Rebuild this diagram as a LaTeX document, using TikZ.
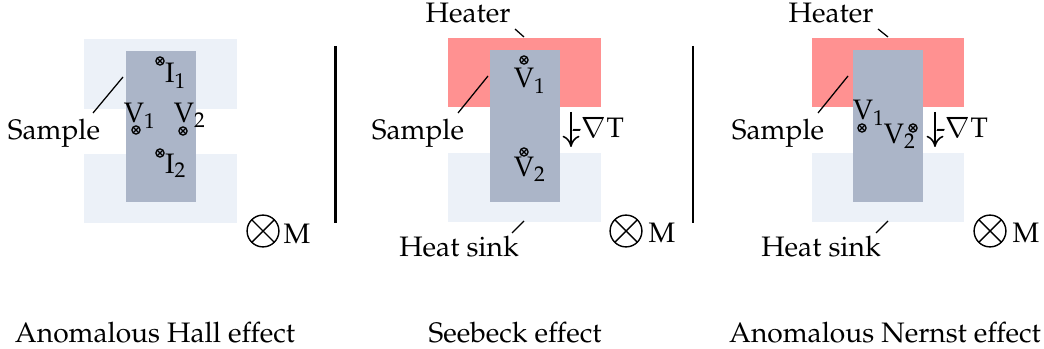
\documentclass[tikz,border=0pt]{standalone}
\usepackage[T1]{fontenc}
\usepackage{mathpazo}
\usepackage{tikz}
\usetikzlibrary{arrows.meta}

\definecolor{heaterred}{RGB}{255,145,145}
\definecolor{samplegray}{RGB}{171,181,200}
\definecolor{sinkblue}{RGB}{236,241,248}

\tikzset{
  crossed/.style={path picture={\draw[line width=#1]
    (path picture bounding box.north west) -- (path picture bounding box.south east)
    (path picture bounding box.north east) -- (path picture bounding box.south west);}}
}

\begin{document}
\begin{tikzpicture}[
  x=0.355pt, y=-0.355pt,
  font=\normalsize,
  txt/.style={anchor=base,inner sep=0pt},
  leader/.style={line width=0.45pt},
  divider/.style={line width=0.75pt},
  contact/.style={circle,draw,line width=0.45pt,inner sep=0pt,minimum size=2.9pt,crossed=0.4pt},
  field/.style={circle,draw,line width=0.5pt,inner sep=0pt,minimum size=11.3pt,crossed=0.5pt},
  grad/.style={-{To[length=4pt,width=6pt]},line width=0.55pt}
]
\useasboundingbox (0,0) rectangle (1044,349);

% Anomalous Hall effect
\fill[sinkblue] (84,39) rectangle (237,109);
\fill[sinkblue] (84,154) rectangle (237,223);
\fill[samplegray] (126,51) rectangle (196,202);
\node[txt] (hall-i1-lbl) at (176,83) {I$_1$};
\node[contact] (hall-i1) at (160,61) {};
\node[txt] (hall-i2-lbl) at (176,173) {I$_2$};
\node[contact] (hall-i2) at (160,153) {};
\node[txt] (hall-v1-lbl) at (140,123) {V$_1$};
\node[contact] (hall-v1) at (136,130) {};
\node[txt] (hall-v2-lbl) at (190,123) {V$_2$};
\node[contact] (hall-v2) at (183,131) {};
\node[txt] (hall-sample) at (54,140) {Sample};
\coordinate (hall-sample-a) at (123,77);
\coordinate (hall-sample-b) at (93,113);
\draw[leader] (hall-sample-a) -- (hall-sample-b);
\node[field] (hall-m) at (263,231) {};
\node[txt] (hall-m-lbl) at (297,243) {M};
\node[txt] (hall-title) at (155,342) {Anomalous Hall effect};

\coordinate (div1-top) at (335.5,46);
\coordinate (div1-bot) at (335.5,223);
\draw[divider] (div1-top) -- (div1-bot);

% Seebeck effect
\fill[heaterred] (448,38) rectangle (601,107);
\fill[sinkblue] (448,153) rectangle (601,222);
\fill[samplegray] (490,50) rectangle (560,202);
\node[contact] (sb-v1) at (524,60) {};
\node[txt] (sb-v1-lbl) at (530,88) {V$_1$};
\node[contact] (sb-v2) at (524,152) {};
\node[txt] (sb-v2-lbl) at (530,177) {V$_2$};
\node[txt] (sb-heater) at (468,23) {Heater};
\coordinate (sb-heater-a) at (515,29);
\coordinate (sb-heater-b) at (524,37);
\draw[leader] (sb-heater-a) -- (sb-heater-b);
\node[txt] (sb-sample) at (418,139) {Sample};
\coordinate (sb-sample-a) at (488,76);
\coordinate (sb-sample-b) at (458,113);
\draw[leader] (sb-sample-a) -- (sb-sample-b);
\node[txt] (sb-sink) at (459,256) {Heat sink};
\coordinate (sb-sink-a) at (524,221);
\coordinate (sb-sink-b) at (512,233);
\draw[leader] (sb-sink-a) -- (sb-sink-b);
\coordinate (sb-grad-top) at (571,112);
\coordinate (sb-grad-bot) at (571,147);
\draw[grad] (sb-grad-top) -- (sb-grad-bot);
\node[txt] (sb-grad-lbl) at (598,138) {-$\nabla$T};
\node[field] (sb-m) at (626,231) {};
\node[txt] (sb-m-lbl) at (662,242) {M};
\node[txt] (sb-title) at (515,342) {Seebeck effect};

\coordinate (div2-top) at (693,46);
\coordinate (div2-bot) at (693,223);
\draw[divider] (div2-top) -- (div2-bot);

% Anomalous Nernst effect
\fill[heaterred] (812,38) rectangle (964,107);
\fill[sinkblue] (812,153) rectangle (964,222);
\fill[samplegray] (853,50) rectangle (923,202);
\node[txt] (ne-v1-lbl) at (869,120) {V$_1$};
\node[contact] (ne-v1) at (862,128) {};
\node[txt] (ne-v2-lbl) at (900,144) {V$_2$};
\node[contact] (ne-v2) at (913,128) {};
\node[txt] (ne-heater) at (831,23) {Heater};
\coordinate (ne-heater-a) at (878,29);
\coordinate (ne-heater-b) at (888,37);
\draw[leader] (ne-heater-a) -- (ne-heater-b);
\node[txt] (ne-sample) at (778,139) {Sample};
\coordinate (ne-sample-a) at (848,76);
\coordinate (ne-sample-b) at (818,113);
\draw[leader] (ne-sample-a) -- (ne-sample-b);
\node[txt] (ne-sink) at (821,256) {Heat sink};
\coordinate (ne-sink-a) at (888,221);
\coordinate (ne-sink-b) at (876,233);
\draw[leader] (ne-sink-a) -- (ne-sink-b);
\coordinate (ne-grad-top) at (935,112);
\coordinate (ne-grad-bot) at (935,147);
\draw[grad] (ne-grad-top) -- (ne-grad-bot);
\node[txt] (ne-grad-lbl) at (962,138) {-$\nabla$T};
\node[field] (ne-m) at (990,231) {};
\node[txt] (ne-m-lbl) at (1026,242) {M};
\node[txt] (ne-title) at (885,342) {Anomalous Nernst effect};
\end{tikzpicture}
\end{document}
